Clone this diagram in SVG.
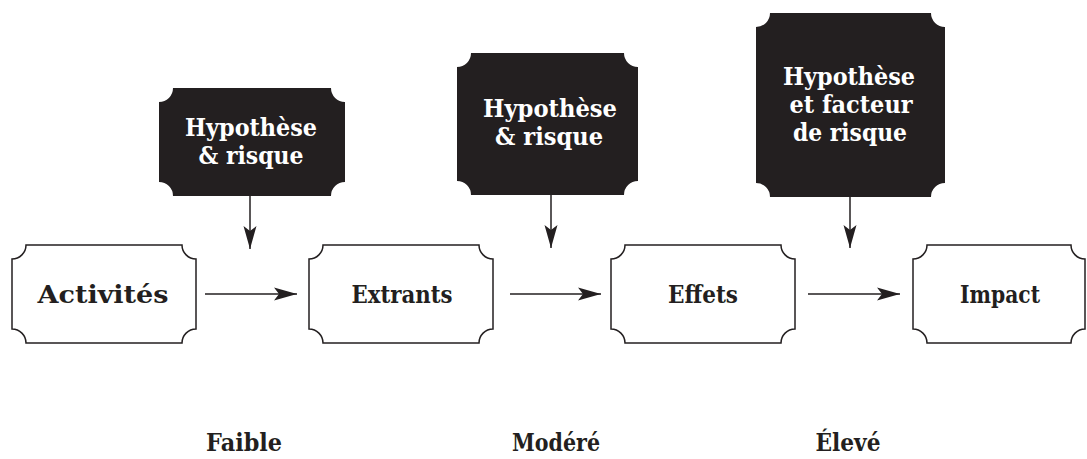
<svg xmlns="http://www.w3.org/2000/svg" width="1087" height="459" viewBox="0 0 1087 459">
  <style>
    .stage { fill: #ffffff; stroke: #231f20; stroke-width: 1.5; }
    .risk { fill: #231f20; stroke: none; }
    .label { font-family: "DejaVu Serif", "Liberation Serif", serif; font-weight: bold; font-size: 24px; text-anchor: middle; fill: #231f20; }
    .risk-label { font-family: "DejaVu Serif", "Liberation Serif", serif; font-weight: bold; font-size: 24px; text-anchor: middle; fill: #ffffff; }
    .flow { stroke: #231f20; stroke-width: 1.5; fill: none; marker-end: url(#head); }
  </style>
  <defs>
    <marker id="head" markerUnits="userSpaceOnUse" markerWidth="24" markerHeight="14" refX="23" refY="7" orient="auto">
      <path d="M0,0.5 L23,7 L0,13.5 L5,7 Z" fill="#231f20"/>
    </marker>
  </defs>

  <rect width="1087" height="459" fill="#ffffff"/>

  <!-- risk boxes (black, notched corners) -->
  <g id="risk1">
    <path class="risk" d="M173,88 H331 A14,14 0 0 0 345,102 V182 A14,14 0 0 0 331,196 H173 A14,14 0 0 0 159,182 V102 A14,14 0 0 0 173,88 Z"/>
    <text class="risk-label" x="251" y="136" textLength="132" lengthAdjust="spacingAndGlyphs">Hypothèse</text>
    <text class="risk-label" x="251" y="164" textLength="105" lengthAdjust="spacingAndGlyphs">&amp; risque</text>
  </g>
  <g id="risk2">
    <path class="risk" d="M471,53 H624 A14,14 0 0 0 638,67 V181 A14,14 0 0 0 624,195 H471 A14,14 0 0 0 457,181 V67 A14,14 0 0 0 471,53 Z"/>
    <text class="risk-label" x="550" y="117" textLength="134" lengthAdjust="spacingAndGlyphs">Hypothèse</text>
    <text class="risk-label" x="549" y="145" textLength="108" lengthAdjust="spacingAndGlyphs">&amp; risque</text>
  </g>
  <g id="risk3">
    <path class="risk" d="M770,13 H931 A14,14 0 0 0 945,27 V183 A14,14 0 0 0 931,197 H770 A14,14 0 0 0 756,183 V27 A14,14 0 0 0 770,13 Z"/>
    <text class="risk-label" x="849" y="85" textLength="132" lengthAdjust="spacingAndGlyphs">Hypothèse</text>
    <text class="risk-label" x="851" y="113" textLength="123" lengthAdjust="spacingAndGlyphs">et facteur</text>
    <text class="risk-label" x="850" y="141" textLength="114" lengthAdjust="spacingAndGlyphs">de risque</text>
  </g>

  <!-- results chain stages (white, notched corners) -->
  <g id="activites">
    <path class="stage" d="M26,245 H182 A14,14 0 0 0 196,259 V329 A14,14 0 0 0 182,343 H26 A14,14 0 0 0 12,329 V259 A14,14 0 0 0 26,245 Z"/>
    <text class="label" x="103" y="303" textLength="131" lengthAdjust="spacingAndGlyphs">Activités</text>
  </g>
  <g id="extrants">
    <path class="stage" d="M323,245 H479 A14,14 0 0 0 493,259 V329 A14,14 0 0 0 479,343 H323 A14,14 0 0 0 309,329 V259 A14,14 0 0 0 323,245 Z"/>
    <text class="label" x="402" y="303" textLength="101" lengthAdjust="spacingAndGlyphs">Extrants</text>
  </g>
  <g id="effets">
    <path class="stage" d="M625,245 H781 A14,14 0 0 0 795,259 V329 A14,14 0 0 0 781,343 H625 A14,14 0 0 0 611,329 V259 A14,14 0 0 0 625,245 Z"/>
    <text class="label" x="703" y="303" textLength="70" lengthAdjust="spacingAndGlyphs">Effets</text>
  </g>
  <g id="impact">
    <path class="stage" d="M927,245 H1071 A14,14 0 0 0 1085,259 V329 A14,14 0 0 0 1071,343 H927 A14,14 0 0 0 913,329 V259 A14,14 0 0 0 927,245 Z"/>
    <text class="label" x="1000" y="303" textLength="80" lengthAdjust="spacingAndGlyphs">Impact</text>
  </g>

  <!-- connectors -->
  <g id="connectors">
    <line class="flow" x1="205" y1="294" x2="297" y2="294"/>
    <line class="flow" x1="510" y1="294" x2="601" y2="294"/>
    <line class="flow" x1="808" y1="294" x2="900" y2="294"/>
    <line class="flow" x1="250" y1="196" x2="250" y2="249"/>
    <line class="flow" x1="551" y1="195" x2="551" y2="248"/>
    <line class="flow" x1="850" y1="197" x2="850" y2="248"/>
  </g>

  <!-- risk level labels -->
  <g id="levels">
    <text class="label" x="244" y="451" textLength="76" lengthAdjust="spacingAndGlyphs">Faible</text>
    <text class="label" x="556" y="451" textLength="88" lengthAdjust="spacingAndGlyphs">Modéré</text>
    <text class="label" x="848" y="451" textLength="65" lengthAdjust="spacingAndGlyphs">Élevé</text>
  </g>
</svg>
